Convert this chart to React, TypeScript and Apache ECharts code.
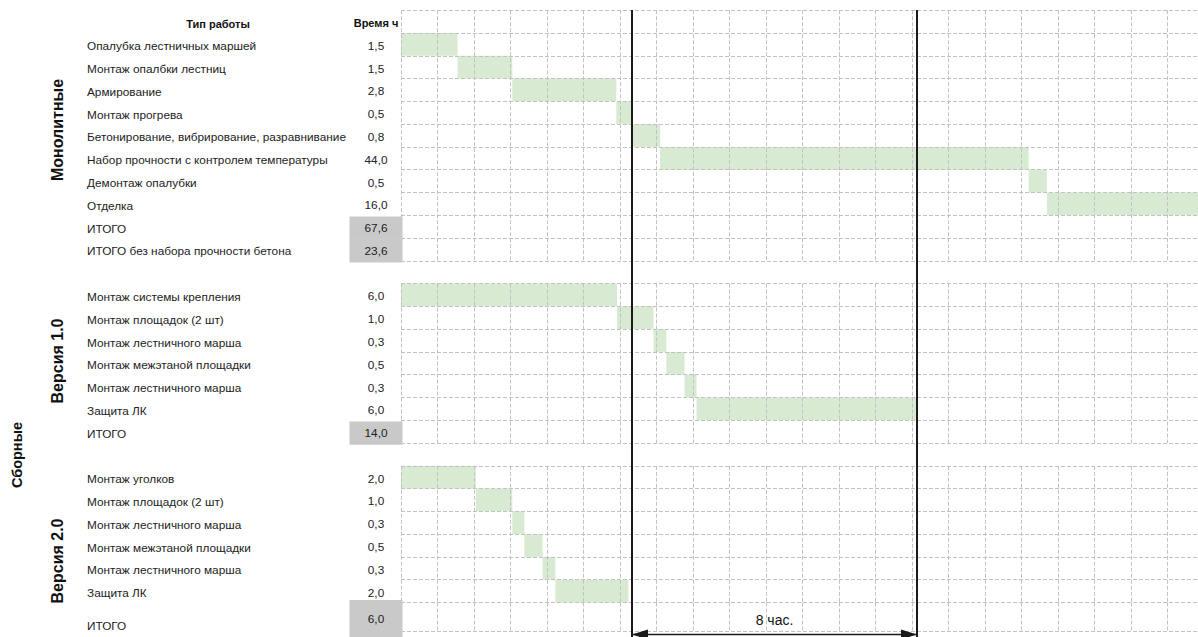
import React, { useEffect, useRef } from "react";
import * as echarts from "echarts";

// ---------- data ----------
const headerName = "Тип работы";
const headerHours = "Время ч";

const monoTasks = [
  "Опалубка лестничных маршей",
  "Монтаж опалбки лестниц",
  "Армирование",
  "Монтаж прогрева",
  "Бетонирование, вибрирование, разравнивание",
  "Набор прочности с контролем температуры",
  "Демонтаж опалубки",
  "Отделка",
];
const monoHours = [1.5, 1.5, 2.8, 0.5, 0.8, 44.0, 0.5, 16.0];
// bar lengths as drawn on the chart (in grid columns)
const monoDrawn = [1.55, 1.5, 2.85, 0.4, 0.8, 10.1, 0.5, 16.0];
const monoTotalNames = ["ИТОГО", "ИТОГО без набора прочности бетона"];
const monoTotalHours = [67.6, 23.6];

const v1Tasks = [
  "Монтаж системы крепления",
  "Монтаж площадок (2 шт)",
  "Монтаж лестничного марша",
  "Монтаж межэтаной площадки",
  "Монтаж лестничного марша",
  "Защита ЛК",
];
const v1Hours = [6.0, 1.0, 0.3, 0.5, 0.3, 6.0];
const v1Drawn = [5.92, 1.0, 0.35, 0.5, 0.33, 6.05];
const v1TotalName = "ИТОГО";
const v1TotalHours = 14.0;

const v2Tasks = [
  "Монтаж уголков",
  "Монтаж площадок (2 шт)",
  "Монтаж лестничного марша",
  "Монтаж межэтаной площадки",
  "Монтаж лестничного марша",
  "Защита ЛК",
];
const v2Hours = [2.0, 1.0, 0.3, 0.5, 0.3, 2.0];
const v2Drawn = [2.05, 1.0, 0.33, 0.5, 0.35, 2.0];
const v2TotalName = "ИТОГО";
const v2TotalHours = 6.0;

const groupLabels = ["Монолитные", "Версия 1.0", "Версия 2.0", "Сборные"];
const shiftStart = 6.33;
const shiftEnd = 14.14;
const shiftLabel = "8 час.";
const visibleColumns = 21.84;

// ---------- layout / style ----------
const FONT = "'Liberation Sans', Arial, sans-serif";
const TEXT = "#222222";
const GREEN = "#d9ead3";
const GRAY = "#c9c9c9";
const GRID_LINE = { color: "#c2c2c2", type: [4, 2] as any, width: 1 };
const ROW_H = 22.78;
const TOP0 = 10.2;
const GRID_LEFT = 401;
const FS = 11.8;

type Row = { name: string; hours: string; drawn: number | null; start: number; kind: "header" | "task" | "total" };

const fmt = (v: number) => v.toFixed(1).replace(".", ",");

function taskRows(names: string[], hours: number[], drawn: number[]): Row[] {
  let acc = 0;
  return names.map((n, i) => {
    const r: Row = { name: n, hours: fmt(hours[i]), drawn: drawn[i], start: acc, kind: "task" };
    acc += drawn[i];
    return r;
  });
}

function totalRow(name: string, h: number): Row {
  return { name, hours: fmt(h), drawn: null, start: 0, kind: "total" };
}

const sections: { rows: Row[]; rowStart: number; height: number; tall?: boolean }[] = [
  {
    rows: [
      { name: headerName, hours: headerHours, drawn: null, start: 0, kind: "header" },
      ...taskRows(monoTasks, monoHours, monoDrawn),
      ...monoTotalNames.map((n, i) => totalRow(n, monoTotalHours[i])),
    ],
    rowStart: 0,
    height: 11 * ROW_H,
  },
  {
    rows: [...taskRows(v1Tasks, v1Hours, v1Drawn), totalRow(v1TotalName, v1TotalHours)],
    rowStart: 12,
    height: 7 * ROW_H,
  },
  { rows: taskRows(v2Tasks, v2Hours, v2Drawn), rowStart: 20, height: 6 * ROW_H },
  { rows: [totalRow(v2TotalName, v2TotalHours)], rowStart: 26, height: 37, tall: true },
];

function buildOption() {
  const grid: any[] = [];
  const xAxis: any[] = [];
  const yAxis: any[] = [];
  const series: any[] = [];
  sections.forEach((s, i) => {
    grid.push({ left: GRID_LEFT, right: 0, top: TOP0 + s.rowStart * ROW_H, height: s.height });
    xAxis.push({
      type: "value",
      gridIndex: i,
      min: 0,
      max: visibleColumns,
      interval: 1,
      axisLabel: { show: false },
      axisLine: { show: false },
      axisTick: { show: false },
      splitLine: { show: true, lineStyle: GRID_LINE },
      z: 5,
    });
    const boxH = s.tall ? s.height : ROW_H + 0.5;
    yAxis.push({
      type: "category",
      gridIndex: i,
      inverse: true,
      position: "left",
      data: s.rows.map((r) => r.name),
      axisLine: { show: false },
      axisTick: { show: false, interval: 0 },
      splitLine: { show: true, interval: 0, lineStyle: GRID_LINE },
      axisLabel: {
        interval: 0,
        align: "left",
        margin: GRID_LEFT - 87,
        fontFamily: FONT,
        fontSize: FS,
        color: TEXT,
        padding: [4, 0, 0, 0],
        lineHeight: s.tall ? 14 : undefined,
        formatter: (v: string, idx: number) => {
          const r = s.rows[idx];
          if (r && r.kind === "header") return `{h|${v}}`;
          if (s.tall) return `\n${v}`;
          return v;
        },
        rich: {
          h: { fontFamily: FONT, fontSize: 11, fontWeight: "bold", color: "#111", width: 262, align: "center" },
        },
      },
      z: 5,
    });
    yAxis.push({
      type: "category",
      gridIndex: i,
      inverse: true,
      position: "left",
      data: s.rows.map((r) => r.hours),
      axisLine: { show: false },
      axisTick: { show: false },
      splitLine: { show: false },
      axisLabel: {
        interval: 0,
        align: "center",
        margin: GRID_LEFT - 376,
        fontFamily: FONT,
        fontSize: FS,
        color: TEXT,
        padding: [3, 0, 0, 0],
        formatter: (v: string, idx: number) => {
          const r = s.rows[idx];
          if (r && r.kind === "header") return `{hb|${v}}`;
          if (r && r.kind === "total") return `{g|${v}}`;
          return v;
        },
        rich: {
          hb: { fontFamily: FONT, fontSize: 11, fontWeight: "bold", color: "#111" },
          g: {
            fontFamily: FONT,
            fontSize: FS,
            color: TEXT,
            backgroundColor: GRAY,
            width: 53,
            height: boxH,
            align: "center",
          },
        },
      },
      z: 5,
    });
    series.push({
      type: "bar",
      xAxisIndex: i,
      yAxisIndex: i * 2,
      stack: "s" + i,
      silent: true,
      barWidth: "100%",
      itemStyle: { color: "rgba(0,0,0,0)" },
      data: s.rows.map((r) => (r.drawn == null ? "-" : r.start)),
      z: 1,
      clip: true,
    });
    series.push({
      type: "bar",
      xAxisIndex: i,
      yAxisIndex: i * 2,
      stack: "s" + i,
      silent: true,
      barWidth: "100%",
      itemStyle: { color: GREEN },
      data: s.rows.map((r) => (r.drawn == null ? "-" : r.drawn)),
      z: 1,
      clip: true,
    });
  });
  return { animation: false, grid, xAxis, yAxis, series };
}

function buildGraphic(xA: number, xB: number) {
  const lineTop = 10;
  const lineBottom = 637;
  const arrowY = 634.5;
  const g: any[] = [
    { type: "line", shape: { x1: xA, y1: lineTop, x2: xA, y2: lineBottom }, style: { stroke: "#1a1a1a", lineWidth: 2 }, z: 10 },
    { type: "line", shape: { x1: xB, y1: lineTop, x2: xB, y2: lineBottom }, style: { stroke: "#1a1a1a", lineWidth: 2 }, z: 10 },
    { type: "line", shape: { x1: xA, y1: arrowY, x2: xB, y2: arrowY }, style: { stroke: "#1a1a1a", lineWidth: 1.5 }, z: 10 },
    {
      type: "polygon",
      shape: { points: [[xA, arrowY], [xA + 16, arrowY - 5], [xA + 16, arrowY + 5]] },
      style: { fill: "#1a1a1a" },
      z: 10,
    },
    {
      type: "polygon",
      shape: { points: [[xB, arrowY], [xB - 16, arrowY - 5], [xB - 16, arrowY + 5]] },
      style: { fill: "#1a1a1a" },
      z: 10,
    },
    {
      type: "text",
      x: (xA + xB) / 2,
      y: 620,
      style: { text: shiftLabel, fill: "#111", font: `14px ${FONT}`, align: "center", verticalAlign: "middle" },
      z: 10,
    },
  ];
  const pos = [
    [57, 130, 16],
    [57, 361, 16],
    [57, 561, 16],
    [17, 455, 14.5],
  ];
  groupLabels.forEach((t, i) => {
    g.push({
      type: "text",
      x: pos[i][0],
      y: pos[i][1],
      rotation: Math.PI / 2,
      style: { text: t, fill: "#111", font: `bold ${pos[i][2]}px ${FONT}`, align: "center", verticalAlign: "middle" },
      z: 10,
    });
  });
  return g;
}

export default function App() {
  const ref = useRef<HTMLDivElement>(null);
  useEffect(() => {
    const el = ref.current!;
    const chart = echarts.init(el, null, { renderer: "svg" });
    chart.setOption(buildOption());
    const xA = chart.convertToPixel({ xAxisIndex: 0 }, shiftStart) as unknown as number;
    const xB = chart.convertToPixel({ xAxisIndex: 0 }, shiftEnd) as unknown as number;
    chart.setOption({ graphic: buildGraphic(xA, xB) });
    return () => chart.dispose();
  }, []);
  return (
    <div
      ref={ref}
      style={{ position: "absolute", left: 0, top: 0, width: 1198, height: 637, background: "#fff" }}
    />
  );
}
